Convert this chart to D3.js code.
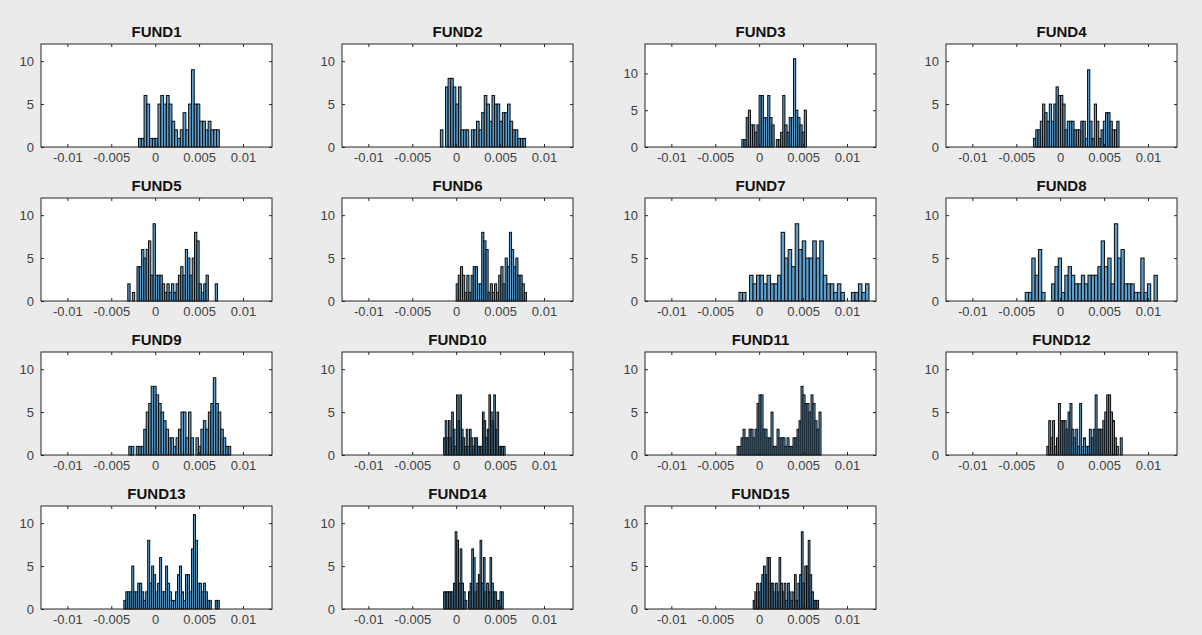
<!DOCTYPE html>
<meta charset="utf-8">
<style>
body{
  margin: 0;
  background: #ebebeb;
}
svg{
  display: block;
  font-family: "Liberation Sans", Arial, sans-serif;
}
.axis path {
  display: none;
}
.axis line {
  stroke: #262626;
}
.axis text {
  fill: #404040;
  font-size: 13px;
}
.title {
  font-weight: bold;
  font-size: 15px;
  fill: #111;
}
.bar {
  fill: #5d9fcf;
  stroke: #0a0a0a;
  stroke-width: 1;
}
</style>
<svg width="1202" height="635"></svg>
<script src="https://d3js.org/d3.v7.min.js"></script>
<script>
// panel names, histogram bin range and counts
var fundNames = ["FUND1","FUND2","FUND3","FUND4","FUND5","FUND6","FUND7","FUND8",
                 "FUND9","FUND10","FUND11","FUND12","FUND13","FUND14","FUND15"];

var binStart = [-0.0019,-0.0018,-0.00197,-0.00303,-0.00312,0.0000,-0.0023,-0.00398,
                -0.0030,-0.00143,-0.00252,-0.00152,-0.00357,-0.00143,-0.00068];
var binEnd   = [0.0073,0.0079,0.00538,0.0067,0.0071,0.0080,0.0125,0.01106,
                0.0086,0.00557,0.00704,0.00706,0.0073,0.00536,0.00676];

var yMax = [12,12,14,12,12,12,12,12,12,12,12,12,12,12,12];

var counts = [
  [1,1,6,5,1,1,1,5,6,5,6,5,3,2,1,2,4,2,5,9,5,5,3,3,2,3,2,2,2],
  [2,0,7,8,8,7,5,7,2,2,2,0,2,2,3,2,4,6,5,3,6,5,5,3,4,4,5,3,2,2,1,1,1],
  [1,1,4,5,3,3,2,3,7,7,4,4,7,4,3,0,1,1,2,7,3,2,4,4,12,5,4,3,2,5],
  [1,2,2,3,5,4,3,5,3,5,7,6,6,5,2,3,3,3,2,2,2,3,3,1,9,3,1,5,3,1,2,3,4,4,3,2,2,3],
  [2,0,1,0,4,4,6,5,6,7,3,9,3,3,3,2,1,2,1,2,1,2,3,4,3,6,5,3,5,8,7,2,1,2,3,0,0,0,2],
  [2,3,4,3,1,3,1,3,4,4,2,2,8,7,6,1,2,1,2,1,3,4,2,5,4,8,6,4,5,3,3,2,1],
  [1,1,0,3,2,3,3,2,3,2,2,3,8,5,6,4,9,6,7,5,5,7,5,7,3,2,2,1,2,1,0,0,1,1,2,1,2],
  [1,1,5,3,6,1,0,0,2,4,5,1,3,4,3,2,2,3,2,3,3,3,4,7,4,5,2,9,5,6,2,2,2,1,1,5,1,2,0,3],
  [1,1,0,1,1,1,3,5,6,8,8,7,6,5,4,3,2,2,1,2,3,5,5,2,5,2,0,2,1,3,4,3,5,6,9,6,5,3,2,1,1],
  [2,4,2,4,2,5,3,1,7,4,7,3,2,1,3,1,3,2,1,2,2,1,1,1,5,4,2,3,7,5,4,7,3,5,1,1,1,1],
  [1,1,2,3,2,2,3,3,2,3,6,7,7,3,3,2,2,5,1,1,3,2,2,2,1,2,1,1,2,2,3,4,8,7,6,6,5,7,6,4,3,5],
  [1,4,2,4,1,2,6,4,4,4,3,5,6,3,2,3,1,6,1,2,1,1,3,2,3,7,3,3,3,4,5,7,7,5,4,2,1,0,2],
  [1,2,2,2,5,2,2,3,3,2,1,2,8,3,5,4,2,3,6,2,2,5,3,2,1,1,2,4,5,2,1,4,4,2,7,11,8,3,3,2,3,2,1,1,0,0,1,1],
  [2,2,2,2,2,2,3,9,8,3,7,3,2,1,0,2,3,7,6,2,3,4,8,3,6,2,3,2,6,3,2,2,1,1,2,2],
  [1,2,3,2,3,4,5,4,6,6,3,3,2,3,2,6,3,2,3,1,3,2,1,2,4,1,3,4,9,3,5,5,8,4,2,1,1,1]
];

var xTicks = [-0.01,-0.005,0,0.005,0.01];
var yTicks = [0,5,10];
var xLimits = [-0.013,0.0133];

var svg = d3.select("svg");

var colLeft = [41,342,645,946],
    rowTop = [44,198,352,506],
    w = 231,
    h = 103;

fundNames.forEach(function(name, k){
  var col = k % 4, row = Math.floor(k / 4);
  var g = svg.append("g")
    .attr("transform", "translate(" + colLeft[col] + "," + rowTop[row] + ")");

  var x = d3.scaleLinear().domain(xLimits).range([0, w]);
  var y = d3.scaleLinear().domain([0, yMax[k]]).range([h, 0]);

  g.append("rect")
    .attr("width", w).attr("height", h)
    .attr("fill", "#fff");

  var n = counts[k].length,
      bw = (binEnd[k] - binStart[k]) / n;
  var bins = counts[k].map(function(c, i){
    return {x0: binStart[k] + i*bw, x1: binStart[k] + (i+1)*bw, c: c};
  }).filter(function(d){ return d.c > 0; });

  g.selectAll(".bar")
    .data(bins)
    .enter().append("rect")
    .attr("class", "bar")
    .attr("x", function(d){ return x(d.x0); })
    .attr("width", function(d){ return x(d.x1) - x(d.x0); })
    .attr("y", function(d){ return y(d.c); })
    .attr("height", function(d){ return y(0) - y(d.c); });

  var fmt = function(d){ return String(d); };

  g.append("g")
    .attr("class", "axis")
    .attr("transform", "translate(0," + h + ")")
    .call(d3.axisBottom(x).tickValues(xTicks).tickFormat(fmt).tickSizeInner(-3).tickSizeOuter(0).tickPadding(6));
  g.append("g")
    .attr("class", "axis")
    .call(d3.axisTop(x).tickValues(xTicks).tickFormat("").tickSizeInner(-3).tickSizeOuter(0));
  g.append("g")
    .attr("class", "axis")
    .call(d3.axisLeft(y).tickValues(yTicks).tickFormat(fmt).tickSizeInner(-3).tickSizeOuter(0).tickPadding(7));
  g.append("g")
    .attr("class", "axis")
    .attr("transform", "translate(" + w + ",0)")
    .call(d3.axisRight(y).tickValues(yTicks).tickFormat("").tickSizeInner(-3).tickSizeOuter(0));

  g.append("rect")
    .attr("width", w).attr("height", h)
    .attr("fill", "none")
    .attr("stroke", "#262626")
    .attr("stroke-width", 1);

  g.append("text")
    .attr("class", "title")
    .attr("x", w/2)
    .attr("y", -7)
    .attr("text-anchor", "middle")
    .text(name);
});
</script>
